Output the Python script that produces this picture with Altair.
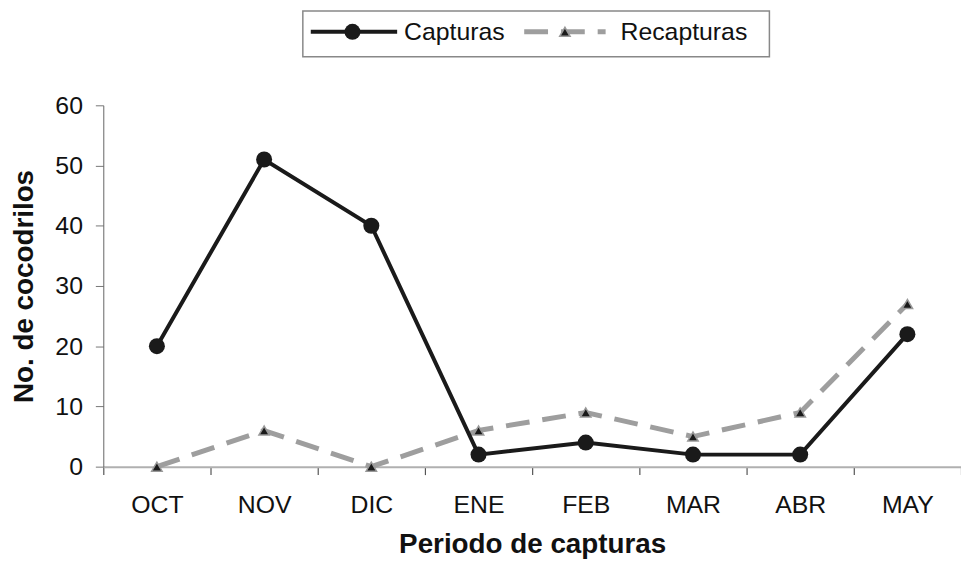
import altair as alt
import pandas as pd

# ---- data ----
meses = ["OCT", "NOV", "DIC", "ENE", "FEB", "MAR", "ABR", "MAY"]
capturas = [20, 51, 40, 2, 4, 2, 2, 22]
recapturas = [0, 6, 0, 6, 9, 5, 9, 27]
series = ["Capturas", "Recapturas"]
y_ticks = [0, 10, 20, 30, 40, 50, 60]

rows = []
for s, vals in zip(series, [capturas, recapturas]):
    for m, v in zip(meses, vals):
        rows.append({"mes": m, "valor": v, "serie": s})
df = pd.DataFrame(rows)
legend_df = pd.DataFrame({"etiqueta": series})

W, H = 864, 364
FONT = "Liberation Sans"
INK = "#1a1a1a"
GREY = "#9e9e9e"

x_enc = alt.X(
    "mes:N",
    sort=meses,
    bandPosition=0.5,
    scale=alt.Scale(type="band", paddingInner=0, paddingOuter=0),
    axis=alt.Axis(
        title="Periodo de capturas",
        labelAngle=0,
        tickBand="extent",
        tickSize=8,
        tickColor="#555",
        tickWidth=1.2,
        labelPadding=18,
        labelFont=FONT,
        labelFontSize=25,
        labelColor="#111",
        titleFont=FONT,
        titleFontSize=28,
        titleFontWeight="bold",
        titleColor="#111",
        titleBaseline="alphabetic",
        titleY=86,
        domainColor="#b0b0b0",
        domainWidth=2,
        grid=False,
    ),
)
y_enc = alt.Y(
    "valor:Q",
    scale=alt.Scale(domain=[0, 60], nice=False),
    axis=alt.Axis(
        title="No. de cocodrilos",
        values=y_ticks,
        tickSize=8,
        tickColor="#777",
        labelPadding=13,
        labelFont=FONT,
        labelFontSize=25,
        labelColor="#111",
        titleFont=FONT,
        titleFontSize=28,
        titleFontWeight="bold",
        titleColor="#111",
        titleAngle=270,
        titleBaseline="alphabetic",
        titleX=-71,
        domainColor="#666",
        domainWidth=1,
        grid=False,
    ),
)

base = alt.Chart(df).encode(x=x_enc, y=y_enc)

rec_line = base.transform_filter(alt.datum.serie == "Recapturas").mark_line(
    color=GREY, strokeWidth=5, strokeDash=[24, 13]
)
cap_line = base.transform_filter(alt.datum.serie == "Capturas").mark_line(
    color=INK, strokeWidth=4
)
rec_pts = base.transform_filter(alt.datum.serie == "Recapturas").mark_point(
    shape="triangle-up", filled=True, fill=INK, stroke="#999", strokeWidth=1.5,
    size=110, opacity=1
)
cap_pts = base.transform_filter(alt.datum.serie == "Capturas").mark_circle(
    size=260, color=INK, opacity=1
)

# ---- legend box (top, outside plot area) ----
lg = alt.Chart(legend_df)
LY = -74
box = lg.transform_filter(alt.datum.etiqueta == "Capturas").mark_rect(
    fill="white", stroke="#888", strokeWidth=1.5
).encode(x=alt.value(201), x2=alt.value(671), y=alt.value(-95), y2=alt.value(-49))

cap_lg_line = lg.transform_filter(alt.datum.etiqueta == "Capturas").mark_rule(
    color=INK, strokeWidth=4
).encode(x=alt.value(209), x2=alt.value(296), y=alt.value(LY))
cap_lg_pt = lg.transform_filter(alt.datum.etiqueta == "Capturas").mark_circle(
    size=260, color=INK, opacity=1
).encode(x=alt.value(251), y=alt.value(LY))
cap_lg_txt = lg.transform_filter(alt.datum.etiqueta == "Capturas").mark_text(
    align="left", baseline="middle", font=FONT, fontSize=25, color="#111"
).encode(x=alt.value(303), y=alt.value(LY), text="etiqueta:N")

rec_lg_line = lg.transform_filter(alt.datum.etiqueta == "Recapturas").mark_rule(
    color=GREY, strokeWidth=5, strokeDash=[24, 13]
).encode(x=alt.value(424), x2=alt.value(506), y=alt.value(LY))
rec_lg_pt = lg.transform_filter(alt.datum.etiqueta == "Recapturas").mark_point(
    shape="triangle-up", filled=True, fill=INK, stroke="#999", strokeWidth=1.5,
    size=110, opacity=1
).encode(x=alt.value(465), y=alt.value(LY))
rec_lg_txt = lg.transform_filter(alt.datum.etiqueta == "Recapturas").mark_text(
    align="left", baseline="middle", font=FONT, fontSize=25, color="#111"
).encode(x=alt.value(521), y=alt.value(LY), text="etiqueta:N")

chart = (
    alt.layer(
        rec_line, cap_line, rec_pts, cap_pts,
        box, cap_lg_line, cap_lg_pt, cap_lg_txt, rec_lg_line, rec_lg_pt, rec_lg_txt,
    )
    .properties(
        width=W,
        height=H,
        autosize=alt.AutoSizeParams(type="none"),
        padding={"left": 96, "top": 96, "right": 0, "bottom": 92},
        background="white",
    )
    .configure_view(stroke=None)
)

chart.save("out.html", embed_options={"renderer": "svg", "actions": False})
